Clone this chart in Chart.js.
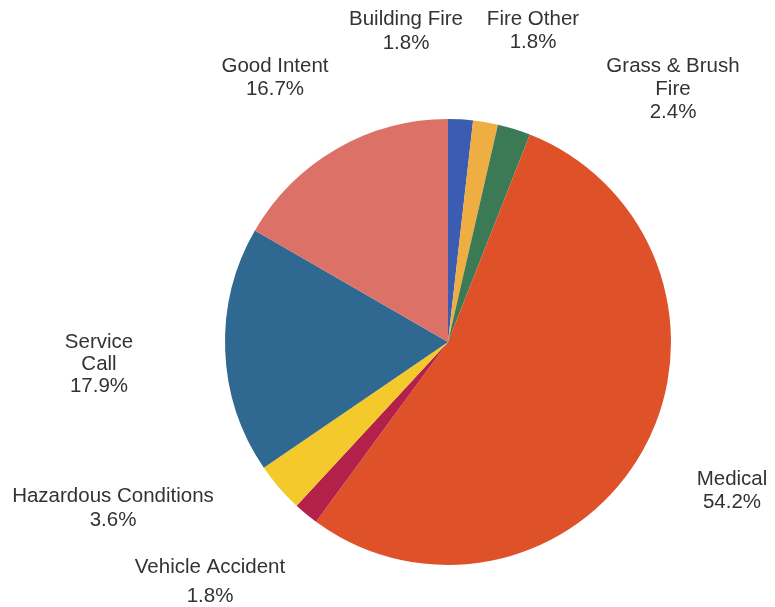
<!DOCTYPE html>
<html>
<head>
  <title>Incident Types</title>
  <script src="https://cdn.jsdelivr.net/npm/chart.js"></script>
  <style>
    html, body { margin: 0; padding: 0; background: #fff; }
    #wrap { width: 775px; height: 607px; position: relative; }
  </style>
</head>
<body>
  <div id="wrap"><canvas id="pieChart"></canvas></div>

  <script>
    // Data (percent of calls)
    var categories = ['Building Fire', 'Fire Other', 'Grass & Brush Fire', 'Medical',
                      'Vehicle Accident', 'Hazardous Conditions', 'Service Call', 'Good Intent'];
    var percents = [1.8, 1.8, 2.4, 54.2, 1.8, 3.6, 17.9, 16.7];

    // how each label breaks into lines
    var labelLines = [
      ['Building Fire'], ['Fire Other'], ['Grass & Brush', 'Fire'], ['Medical'],
      ['Vehicle Accident'], ['Hazardous Conditions'], ['Service', 'Call'], ['Good Intent']
    ];

    var sliceColors = ['#3b5cb0', '#eeae42', '#3c7a56', '#df5229',
                       '#b3214a', '#f4c92c', '#2f6891', '#dc7168'];

    // label placement, offset of first line from the pie centre (px), and line gap
    var labelOffsets = [
      [-42, -323, 24], [85, -323, 23], [225, -276, 23], [284, 137, 23],
      [-238, 225, 29], [-335, 154, 24], [-349, 0, 22], [-173, -276, 23]
    ];

    // Draw the text labels next to the slices
    var sliceLabels = {
      id: 'sliceLabels',
      afterDraw: function(chart) {
        var ctx = chart.ctx;
        var arc = chart.getDatasetMeta(0).data[0];
        ctx.save();
        ctx.font = '20.5px "Liberation Sans", Arial, sans-serif';
        ctx.fillStyle = '#333';
        ctx.textAlign = 'center';
        ctx.textBaseline = 'middle';
        for (var i = 0; i < categories.length; i++) {
          var x = arc.x + labelOffsets[i][0];
          var y = arc.y + labelOffsets[i][1];
          var lines = labelLines[i].concat([percents[i].toFixed(1) + '%']);
          for (var j = 0; j < lines.length; j++) {
            ctx.fillText(lines[j], x, y + j * labelOffsets[i][2]);
          }
        }
        ctx.restore();
      }
    };

    var ctx = document.getElementById('pieChart').getContext('2d');
    var pieChart = new Chart(ctx, {
      type: 'pie',
      data: {
        labels: categories,
        datasets: [{
          data: percents,
          backgroundColor: sliceColors,
          borderWidth: 0
        }]
      },
      options: {
        responsive: true,
        maintainAspectRatio: false,
        animation: false,
        layout: {
          padding: { left: 225, right: 104, top: 119, bottom: 42 }
        },
        plugins: {
          legend: { display: false },
          tooltip: { enabled: false }
        }
      },
      plugins: [sliceLabels]
    });
  </script>
</body>
</html>
